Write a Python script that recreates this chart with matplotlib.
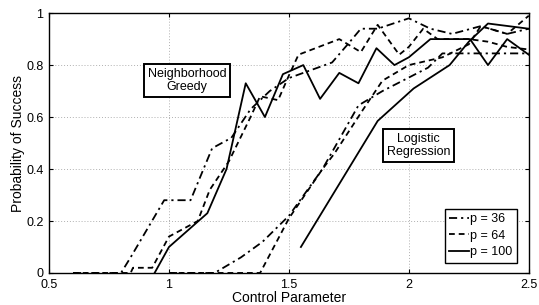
import matplotlib
matplotlib.use("Agg")
import matplotlib.pyplot as plt
from matplotlib.lines import Line2D

# Neighborhood greedy curves
greedy_x36 = [0.6, 0.8, 0.84, 0.98, 1.09, 1.18, 1.26, 1.34, 1.42, 1.50, 1.59, 1.68, 1.75, 1.80, 1.87, 2.0, 2.09, 2.18, 2.30, 2.41, 2.5]
greedy_y36 = [0, 0, 0.06, 0.28, 0.28, 0.48, 0.52, 0.63, 0.70, 0.75, 0.78, 0.81, 0.885, 0.94, 0.94, 0.98, 0.94, 0.92, 0.95, 0.92, 0.94]

greedy_x64 = [0.6, 0.84, 0.85, 0.93, 1.0, 1.12, 1.17, 1.25, 1.34, 1.38, 1.455, 1.50, 1.54, 1.71, 1.80, 1.87, 1.96, 2.0, 2.06, 2.12, 2.25, 2.33, 2.41, 2.5]
greedy_y64 = [0, 0, 0.02, 0.02, 0.14, 0.20, 0.32, 0.43, 0.60, 0.68, 0.665, 0.76, 0.84, 0.90, 0.85, 0.955, 0.84, 0.87, 0.94, 0.90, 0.90, 0.89, 0.87, 0.86]

greedy_x100 = [0.94, 1.0, 1.16, 1.24, 1.32, 1.40, 1.475, 1.56, 1.63, 1.71, 1.79, 1.865, 1.94, 2.0, 2.09, 2.255, 2.33, 2.41, 2.5]
greedy_y100 = [0, 0.10, 0.23, 0.40, 0.73, 0.60, 0.765, 0.80, 0.67, 0.77, 0.73, 0.865, 0.80, 0.83, 0.90, 0.90, 0.80, 0.90, 0.84]

# Logistic regression curves
logit_x36 = [1.0, 1.19, 1.30, 1.39, 1.50, 1.64, 1.79, 1.89, 2.08, 2.14, 2.5]
logit_y36 = [0, 0, 0.06, 0.12, 0.22, 0.40, 0.645, 0.70, 0.79, 0.845, 0.845]

logit_x64 = [1.0, 1.38, 1.50, 1.64, 1.69, 1.81, 1.89, 2.0, 2.14, 2.25, 2.30, 2.41, 2.5]
logit_y64 = [0, 0, 0.21, 0.40, 0.46, 0.63, 0.74, 0.80, 0.83, 0.88, 0.95, 0.92, 0.99]

logit_x100 = [1.55, 1.87, 2.02, 2.17, 2.25, 2.33, 2.5]
logit_y100 = [0.10, 0.585, 0.71, 0.80, 0.89, 0.96, 0.94]

x_ticks = [0.5, 1, 1.5, 2, 2.5]
y_ticks = [0, 0.2, 0.4, 0.6, 0.8, 1]
legend_labels = ["p = 36", "p = 64", "p = 100"]

plt.rcParams["font.family"] = ["Liberation Sans", "DejaVu Sans"]

fig = plt.figure(figsize=(5.39, 3.05), dpi=100)
ax = fig.add_axes([0.091, 0.105, 0.890, 0.852])

lw = 1.3
dashdot = (0, (4.5, 2.2, 1.2, 2.2))
dashed = (0, (3.2, 2.2))

ax.plot(greedy_x36, greedy_y36, color="black", lw=lw, linestyle=dashdot)
ax.plot(greedy_x64, greedy_y64, color="black", lw=lw, linestyle=dashed)
ax.plot(greedy_x100, greedy_y100, color="black", lw=lw, linestyle="-")
ax.plot(logit_x36, logit_y36, color="black", lw=lw, linestyle=dashdot)
ax.plot(logit_x64, logit_y64, color="black", lw=lw, linestyle=dashed)
ax.plot(logit_x100, logit_y100, color="black", lw=lw, linestyle="-")

ax.set_xlim(0.5, 2.5)
ax.set_ylim(0, 1)
ax.set_xticks(x_ticks)
ax.set_xticklabels(["0.5", "1", "1.5", "2", "2.5"])
ax.set_yticks(y_ticks)
ax.set_yticklabels(["0", "0.2", "0.4", "0.6", "0.8", "1"])
ax.tick_params(direction="in", labelsize=9, length=3, top=True, right=True)
ax.tick_params(axis="x", pad=4)
ax.tick_params(axis="y", pad=4)
ax.grid(True, linestyle=(0, (1, 2)), color="#b0b0b0", linewidth=0.7)
for s in ax.spines.values():
    s.set_linewidth(1.0)

ax.set_xlabel("Control Parameter", fontsize=10, labelpad=0)
ax.set_ylabel("Probability of Success", fontsize=10, labelpad=1)

box = dict(boxstyle="square,pad=0.3", facecolor="white", edgecolor="black", linewidth=1.4)
ax.text(1.075, 0.74, "Neighborhood\nGreedy", ha="center", va="center", fontsize=9, bbox=box, linespacing=1.1)
ax.text(2.04, 0.49, "Logistic\nRegression", ha="center", va="center", fontsize=9, bbox=box, linespacing=1.1)

handles = [Line2D([], [], color="black", lw=lw, linestyle=dashdot),
           Line2D([], [], color="black", lw=lw, linestyle=dashed),
           Line2D([], [], color="black", lw=lw, linestyle="-")]
leg = ax.legend(handles, legend_labels, loc="lower right", fontsize=9, frameon=True,
                fancybox=False, handlelength=1.6, handletextpad=0.1, borderpad=0.35,
                labelspacing=0.35, borderaxespad=0.0, bbox_to_anchor=(0.975, 0.04))
leg.get_frame().set_edgecolor("black")
leg.get_frame().set_linewidth(1.0)
leg.get_frame().set_alpha(1)

fig.savefig("out.png", dpi=100)
